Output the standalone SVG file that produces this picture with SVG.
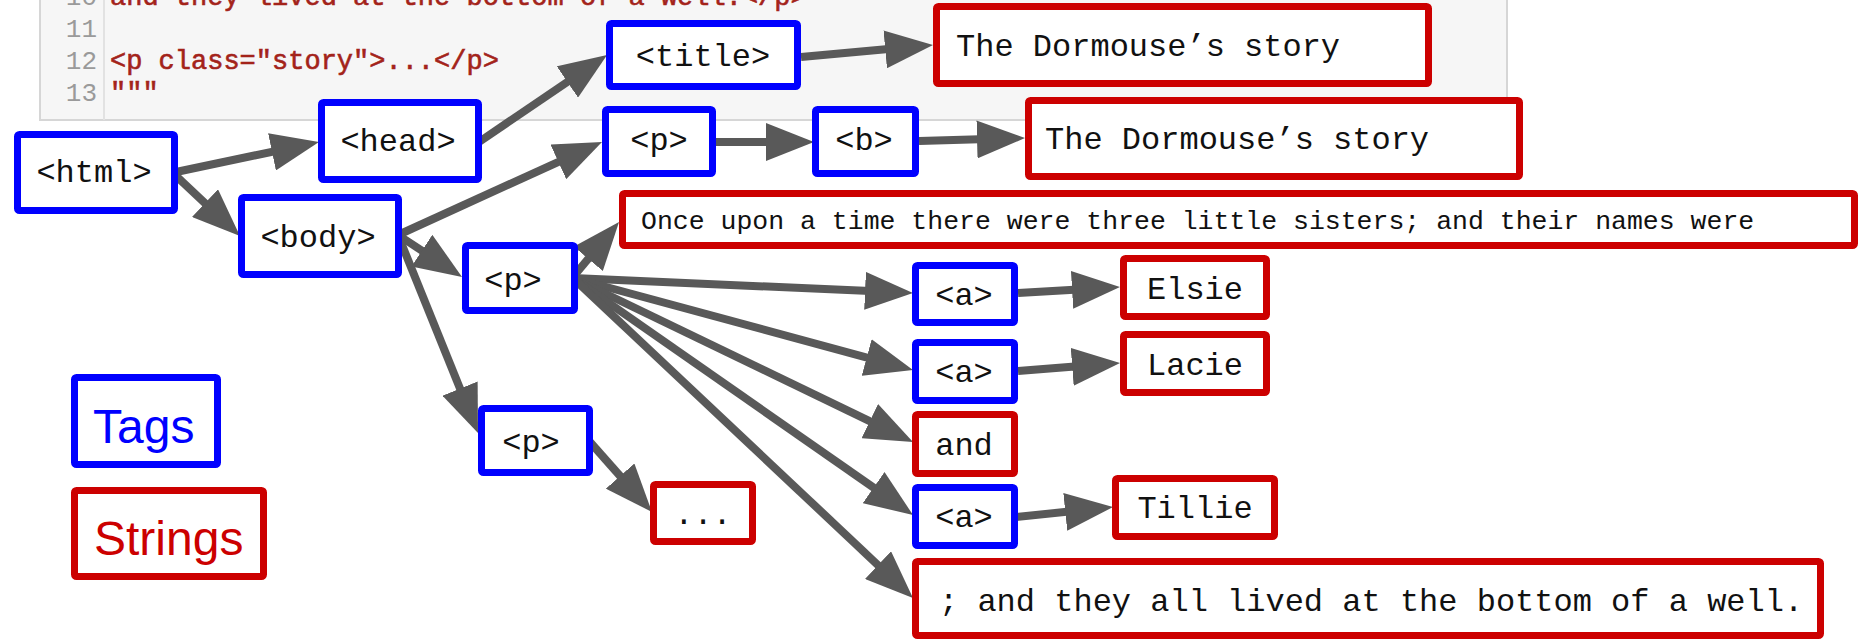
<svg xmlns="http://www.w3.org/2000/svg" width="1863" height="642" viewBox="0 0 1863 642">
<defs>
<style>
.tag{fill:#fff;stroke:#0000ff;stroke-width:7}
.str{fill:#fff;stroke:#cc0000;stroke-width:7}
.lbl{font-family:"Liberation Mono","Courier New",monospace;font-size:32px;fill:#111}
.mid{text-anchor:middle}
.code{font-family:"Liberation Mono",monospace;font-size:27px;fill:#a3231a;stroke:#a3231a;stroke-width:0.6}
.ln{font-family:"Liberation Mono",monospace;font-size:26px;fill:#9a9a9a;text-anchor:end}
.edge{stroke:#595959;stroke-width:8;fill:none;marker-end:url(#ah)}
.leg{font-family:"Liberation Sans",Arial,sans-serif;font-size:48px}
</style>
<marker id="ah" markerUnits="userSpaceOnUse" markerWidth="48" markerHeight="38" refX="28" refY="19" orient="auto">
<path d="M0,0 L48,19 L0,38 z" fill="#595959"/>
</marker>
</defs>
<rect width="1863" height="642" fill="#fff"/>
<g id="code-panel">
<rect x="40" y="-3" width="1467" height="123" fill="#f6f6f6" stroke="#d6d6d6" stroke-width="2"/>
<line x1="104" y1="-3" x2="104" y2="120" stroke="#e2e2e2" stroke-width="2"/>
<text class="ln" x="97" y="5">10</text>
<text class="ln" x="97" y="37">11</text>
<text class="ln" x="97" y="69">12</text>
<text class="ln" x="97" y="101">13</text>
<text class="code" x="110" y="5">and they lived at the bottom of a well.&lt;/p&gt;</text>
<text class="code" x="110" y="69">&lt;p class="story"&gt;...&lt;/p&gt;</text>
<text class="code" x="110" y="101">"""</text>
</g>
<g id="connectors">
<line class="edge" x1="176" y1="172" x2="299.4" y2="146.1"/>
<line class="edge" x1="174" y1="174" x2="225.4" y2="222.3"/>
<line class="edge" x1="479" y1="142" x2="590.5" y2="66.2"/>
<line class="edge" x1="801" y1="57" x2="913.1" y2="46.8"/>
<line class="edge" x1="398" y1="235" x2="583.8" y2="150.3"/>
<line class="edge" x1="398" y1="235" x2="445.3" y2="266"/>
<line class="edge" x1="398" y1="235" x2="470.5" y2="414.5"/>
<line class="edge" x1="716" y1="142" x2="794" y2="142"/>
<line class="edge" x1="919" y1="141" x2="1005" y2="138.6"/>
<line class="edge" x1="573" y1="277" x2="606.2" y2="237.3"/>
<line class="edge" x1="573" y1="278" x2="893" y2="292.1"/>
<line class="edge" x1="573" y1="278" x2="893.7" y2="364.8"/>
<line class="edge" x1="573" y1="278" x2="895" y2="433.3"/>
<line class="edge" x1="573" y1="278" x2="896.6" y2="503.6"/>
<line class="edge" x1="573" y1="278" x2="898.4" y2="584.3"/>
<line class="edge" x1="1018" y1="293" x2="1100" y2="288.2"/>
<line class="edge" x1="1018" y1="371" x2="1100.1" y2="364.6"/>
<line class="edge" x1="1016" y1="517" x2="1093.1" y2="509.1"/>
<line class="edge" x1="590" y1="442" x2="638.7" y2="497"/>
</g>
<g id="n-html"><rect class="tag" x="17.5" y="134.5" width="157" height="76" rx="2"/><text class="lbl mid" x="94" y="182">&lt;html&gt;</text></g>
<g id="n-head"><rect class="tag" x="321.5" y="102.5" width="157" height="77" rx="2"/><text class="lbl mid" x="398" y="151">&lt;head&gt;</text></g>
<g id="n-title"><rect class="tag" x="609.5" y="23.5" width="188" height="63" rx="2"/><text class="lbl mid" x="703" y="66">&lt;title&gt;</text></g>
<g id="n-title-str"><rect class="str" x="936.5" y="6.5" width="492" height="77" rx="2"/><text class="lbl" x="956" y="56">The Dormouse’s story</text></g>
<g id="n-body"><rect class="tag" x="241.5" y="197.5" width="157" height="77" rx="2"/><text class="lbl mid" x="318" y="247">&lt;body&gt;</text></g>
<g id="n-p1"><rect class="tag" x="605.5" y="109.5" width="107" height="64" rx="2"/><text class="lbl mid" x="659" y="150">&lt;p&gt;</text></g>
<g id="n-b"><rect class="tag" x="815.5" y="109.5" width="100" height="64" rx="2"/><text class="lbl mid" x="864" y="150">&lt;b&gt;</text></g>
<g id="n-b-str"><rect class="str" x="1028.5" y="100.5" width="491" height="76" rx="2"/><text class="lbl" x="1045" y="149">The Dormouse’s story</text></g>
<g id="n-p2"><rect class="tag" x="465.5" y="245.5" width="109" height="65" rx="2"/><text class="lbl mid" x="513" y="290">&lt;p&gt;</text></g>
<g id="n-once"><rect class="str" x="622.5" y="193.5" width="1232" height="52" rx="2"/><text class="lbl" x="641" y="229" style="font-size:26.5px">Once upon a time there were three little sisters; and their names were</text></g>
<g id="n-a1"><rect class="tag" x="915.5" y="265.5" width="99" height="57" rx="2"/><text class="lbl mid" x="964" y="305">&lt;a&gt;</text></g>
<g id="n-elsie"><rect class="str" x="1123.5" y="258.5" width="143" height="58" rx="2"/><text class="lbl mid" x="1195" y="299">Elsie</text></g>
<g id="n-a2"><rect class="tag" x="915.5" y="342.5" width="99" height="58" rx="2"/><text class="lbl mid" x="964" y="382">&lt;a&gt;</text></g>
<g id="n-lacie"><rect class="str" x="1123.5" y="334.5" width="143" height="58" rx="2"/><text class="lbl mid" x="1195" y="375">Lacie</text></g>
<g id="n-and"><rect class="str" x="915.5" y="414.5" width="99" height="59" rx="2"/><text class="lbl mid" x="964" y="455">and</text></g>
<g id="n-a3"><rect class="tag" x="915.5" y="487.5" width="99" height="58" rx="2"/><text class="lbl mid" x="964" y="527">&lt;a&gt;</text></g>
<g id="n-tillie"><rect class="str" x="1115.5" y="478.5" width="159" height="58" rx="2"/><text class="lbl mid" x="1195" y="518">Tillie</text></g>
<g id="n-well"><rect class="str" x="915.5" y="561.5" width="905" height="74" rx="2"/><text class="lbl" x="939" y="611">; and they all lived at the bottom of a well.</text></g>
<g id="n-p3"><rect class="tag" x="481.5" y="408.5" width="108" height="64" rx="2"/><text class="lbl mid" x="531" y="452">&lt;p&gt;</text></g>
<g id="n-dots"><rect class="str" x="653.5" y="484.5" width="99" height="57" rx="2"/><text class="lbl mid" x="703" y="524">...</text></g>
<g id="legend-tags"><rect class="tag" x="74.5" y="377.5" width="143" height="87" rx="2"/><text class="leg" x="93" y="443" fill="#0000ff">Tags</text></g>
<g id="legend-strings"><rect class="str" x="74.5" y="490.5" width="189" height="86" rx="2"/><text class="leg" x="94" y="555" fill="#cc0000">Strings</text></g>
</svg>
